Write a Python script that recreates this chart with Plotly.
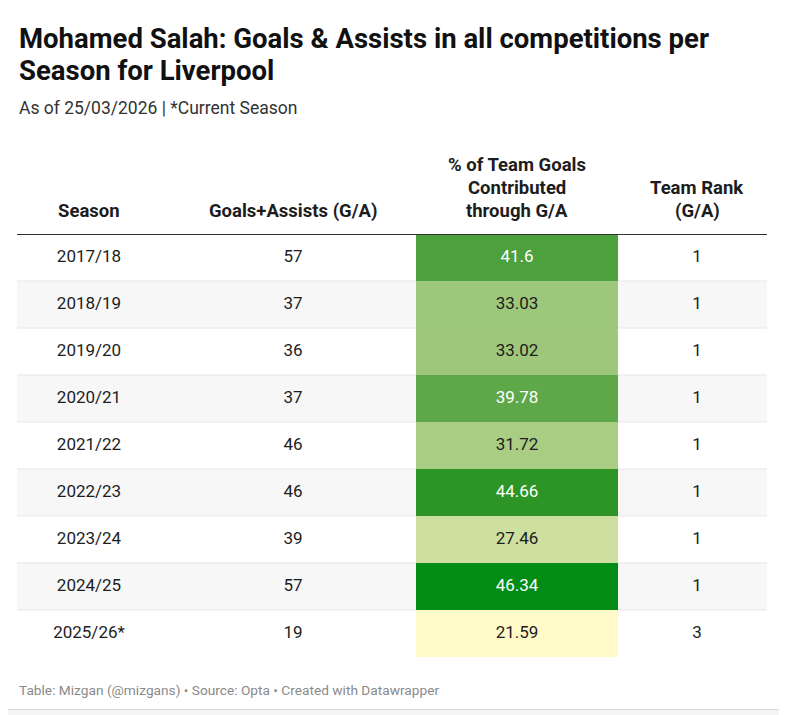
import plotly.graph_objects as go

# table data
seasons = ["2017/18", "2018/19", "2019/20", "2020/21", "2021/22",
           "2022/23", "2023/24", "2024/25", "2025/26*"]
goals_assists = [57, 37, 36, 37, 46, 46, 39, 57, 19]
team_share = [41.6, 33.03, 33.02, 39.78, 31.72, 44.66, 27.46, 46.34, 21.59]
team_rank = [1, 1, 1, 1, 1, 1, 1, 1, 3]

headers = [["Season"],
           ["Goals+Assists (G/A)"],
           ["% of Team Goals", "Contributed", "through G/A"],
           ["Team Rank", "(G/A)"]]

title_lines = ["Mohamed Salah: Goals & Assists in all competitions per", "Season for Liverpool"]
subtitle = "As of 25/03/2026 | *Current Season"
footer = "Table: Mizgan (@mizgans) • Source: Opta • Created with Datawrapper"

# the page body adds an 8px margin, so the figure is a bit smaller than the window
OFF = 8
W, H = 787 - OFF, 715 - OFF
FONT = "Roboto"
TXT = "#1d1d1d"

# layout in window pixels
col_centers = [89, 293, 517, 697]
heat_edges = [416, 618]
tbl_left, tbl_right = 17, 767
tbl_top, tbl_bottom = 234, 657


def fx(x):
    return (x - OFF) / W


def fy(y):
    return 1 - (y - OFF) / H


n = len(seasons)
rows = list(range(n))

scale = [[0.0, "#fffac8"], [0.237, "#cde0a0"], [0.46, "#9ec77b"],
         [0.735, "#5ea84a"], [0.93, "#2e9427"], [1.0, "#008c15"]]

fig = go.Figure()

fig.add_trace(go.Heatmap(
    z=[[v] for v in team_share], x=heat_edges, y=rows,
    colorscale=scale, zmin=min(team_share), zmax=max(team_share),
    showscale=False, hoverinfo="skip"))

body = dict(family=FONT, size=17, color=TXT)
fig.add_trace(go.Scatter(x=[col_centers[0]] * n, y=rows, text=seasons, mode="text",
                         textfont=body, hoverinfo="skip", cliponaxis=False))
fig.add_trace(go.Scatter(x=[col_centers[1]] * n, y=rows, text=[str(v) for v in goals_assists],
                         mode="text", textfont=body, hoverinfo="skip", cliponaxis=False))
fig.add_trace(go.Scatter(x=[col_centers[2]] * n, y=rows, text=[f"{v:g}" for v in team_share],
                         mode="text",
                         textfont=dict(family=FONT, size=17,
                                       color=["white" if v > 38 else TXT for v in team_share]),
                         hoverinfo="skip", cliponaxis=False))
fig.add_trace(go.Scatter(x=[col_centers[3]] * n, y=rows, text=[str(v) for v in team_rank],
                         mode="text", textfont=body, hoverinfo="skip", cliponaxis=False))

shapes = [dict(type="rect", xref="paper", yref="paper", x0=fx(4.5), x1=fx(780.5),
               y0=fy(709.5), y1=fy(6.5), fillcolor="white",
               line=dict(color="#d9d9d9", width=1), layer="below")]
for i in rows:
    if i % 2 == 1:
        shapes.append(dict(type="rect", xref="x", yref="y", x0=tbl_left, x1=tbl_right,
                           y0=i - 0.5, y1=i + 0.5, fillcolor="#f7f7f7",
                           line=dict(width=0), layer="below"))
for i in rows[:-1]:
    shapes.append(dict(type="line", xref="x", yref="y", x0=tbl_left, x1=tbl_right,
                       y0=i + 0.5, y1=i + 0.5, line=dict(color="#e6e6e6", width=1),
                       layer="below"))
shapes.append(dict(type="line", xref="x", yref="y", x0=tbl_left, x1=tbl_right,
                   y0=-0.5, y1=-0.5, line=dict(color="#333333", width=2)))

annotations = []
for k, line in enumerate(title_lines):
    annotations.append(dict(
        text=f"<b>{line}</b>", x=fx(17), y=fy(38 + 33 * k), xref="paper", yref="paper",
        xanchor="left", yanchor="middle", showarrow=False,
        font=dict(family=FONT, size=27.5, color="#111111")))
annotations += [
    dict(text=subtitle, x=fx(17), y=fy(108), xref="paper", yref="paper",
         xanchor="left", yanchor="middle", showarrow=False,
         font=dict(family=FONT, size=17.5, color="#333333")),
    dict(text=footer, x=fx(17), y=fy(690), xref="paper", yref="paper",
         xanchor="left", yanchor="middle", showarrow=False,
         font=dict(family=FONT, size=13.7, color="#8a8a8a")),
]
for c, lines in enumerate(headers):
    for k, line in enumerate(lines):
        annotations.append(dict(
            text=f"<b>{line}</b>", x=col_centers[c], y=fy(211 - 23 * (len(lines) - 1 - k)),
            xref="x", yref="paper", xanchor="center", yanchor="middle", showarrow=False,
            font=dict(family=FONT, size=18.5, color="#1d1d1d")))

fig.update_layout(
    width=W, height=H, margin=dict(l=0, r=0, t=0, b=0),
    paper_bgcolor="#f5f5f5", plot_bgcolor="rgba(0,0,0,0)",
    showlegend=False, shapes=shapes, annotations=annotations,
    xaxis=dict(domain=[fx(tbl_left), fx(tbl_right)], range=[tbl_left, tbl_right],
               visible=False, fixedrange=True),
    yaxis=dict(domain=[fy(tbl_bottom), fy(tbl_top)], range=[n - 0.5, -0.5],
               visible=False, fixedrange=True),
)

fig.write_html("out.html")
